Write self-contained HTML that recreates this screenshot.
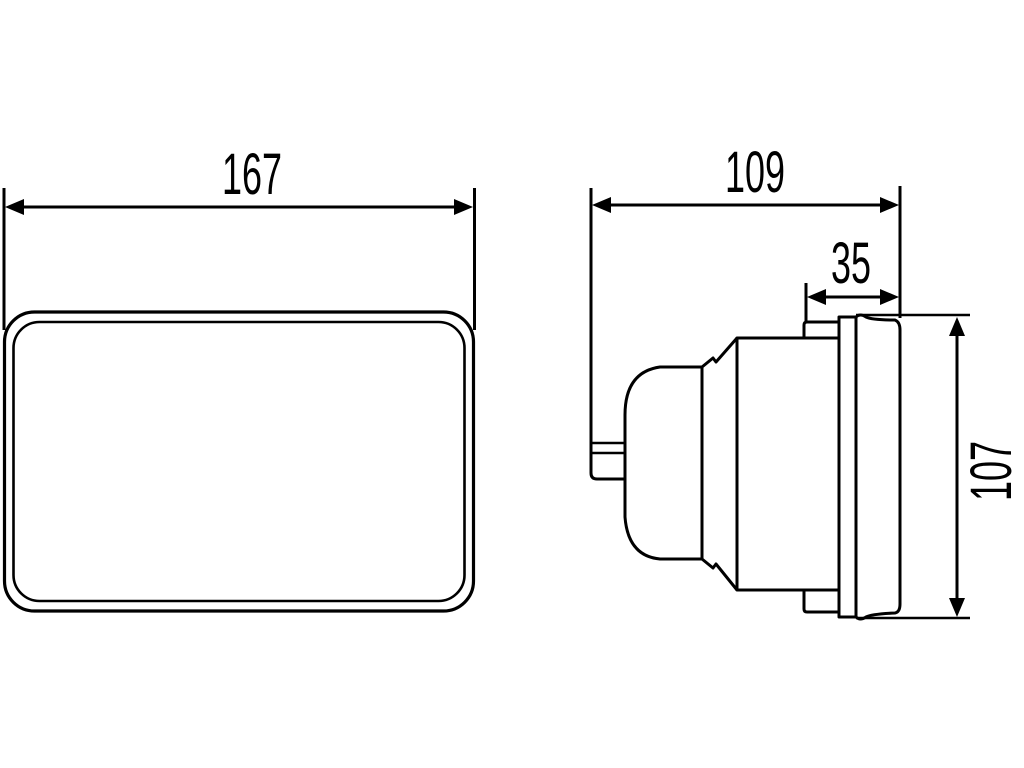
<!DOCTYPE html>
<html><head><meta charset="utf-8"><style>
html,body{margin:0;padding:0;background:#fff;}
svg{display:block}
text{font-family:"Liberation Sans",sans-serif;fill:#000}
</style></head><body>
<svg width="1024" height="768" viewBox="0 0 1024 768" xmlns="http://www.w3.org/2000/svg">
<g fill="none" stroke="#000" stroke-linejoin="round">
<!-- front view -->
<rect x="4.5" y="312" width="469" height="299" rx="30" stroke-width="3.2"/>
<rect x="13.5" y="322" width="451" height="279" rx="26" stroke-width="2.6"/>
<!-- ext lines -->
<line x1="4" y1="188" x2="4" y2="330" stroke-width="3"/>
<line x1="474.5" y1="188" x2="474.5" y2="330" stroke-width="3"/>
<line x1="22" y1="207" x2="458" y2="207" stroke-width="3"/>
<!-- side view -->
<path d="M591 188 V473 Q591 479 597 479 H625" stroke-width="3"/>
<line x1="591" y1="443" x2="625" y2="443" stroke-width="2.5"/>
<line x1="591" y1="453" x2="625" y2="453" stroke-width="2.5"/>
<path d="M702 367 H660 Q625 372 625 415 V517 Q628 556 660 559 H702 Z" stroke-width="3"/>
<path d="M702 367 L713 358 L716 362 L737 338 M702 559 L713 568 L716 564 L737 590" stroke-width="3"/>
<line x1="702" y1="367" x2="702" y2="559" stroke-width="3"/>
<rect x="737" y="338" width="102" height="252" stroke-width="3"/>
<path d="M839 322 H807 Q804 322 804 325 V338 M839 612 H807 Q804 612 804 609 V590" stroke-width="3"/>
<rect x="839" y="317" width="17" height="300" stroke-width="3"/>
<path d="M856 317 Q860 313 866 317 Q872 320 895 320 Q900 322 900 330 V604 Q900 612 895 613 Q872 614 866 617 Q860 621 856 617" stroke-width="3"/>
<line x1="856" y1="315" x2="970" y2="315" stroke-width="2.5"/>
<line x1="856" y1="618" x2="970" y2="618" stroke-width="2.5"/>
<line x1="900" y1="186" x2="900" y2="318" stroke-width="3"/>
<line x1="806" y1="283" x2="806" y2="322" stroke-width="3"/>
<line x1="606" y1="205" x2="884" y2="205" stroke-width="3"/>
<line x1="822" y1="297" x2="884" y2="297" stroke-width="3"/>
<line x1="957" y1="332" x2="957" y2="602" stroke-width="3"/>
</g>
<g fill="#000">
<polygon points="5,207 24,199 24,215"/>
<polygon points="473,207 454,199 454,215"/>
<polygon points="592,205 611,197 611,213"/>
<polygon points="899,205 880,197 880,213"/>
<polygon points="807,297 826,289 826,305"/>
<polygon points="899,297 880,289 880,305"/>
<polygon points="957,317 949,336 965,336"/>
<polygon points="957,617 949,598 965,598"/>
</g>
<text x="252" y="194" font-size="58" text-anchor="middle" transform="translate(252 0) scale(0.62 1) translate(-252 0)">167</text>
<text x="755" y="192" font-size="58" text-anchor="middle" transform="translate(755 0) scale(0.62 1) translate(-755 0)">109</text>
<text x="851" y="283" font-size="58" text-anchor="middle" transform="translate(851 0) scale(0.62 1) translate(-851 0)">35</text>
<text x="0" y="0" font-size="58" text-anchor="middle" transform="translate(1011 471) rotate(-90) scale(0.62 1)">107</text>
</svg>
</body></html>
